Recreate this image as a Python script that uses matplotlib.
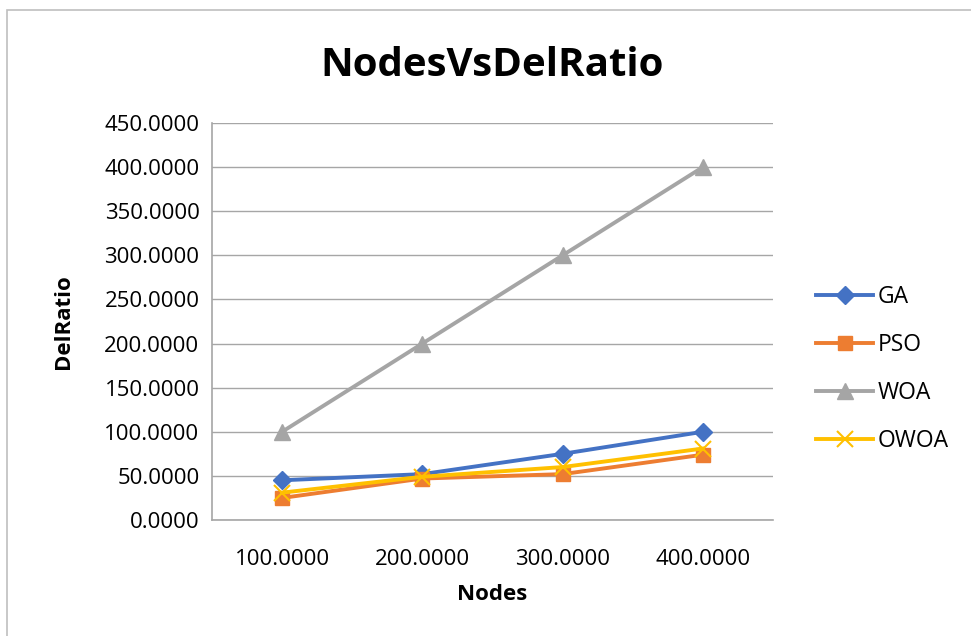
import matplotlib.pyplot as plt
from matplotlib.patches import Rectangle
import numpy as np

nodes = ["100.0000", "200.0000", "300.0000", "400.0000"]
ga = [45, 52, 75, 100]
pso = [25, 47, 52, 74]
woa = [100, 200, 300, 400]
owoa = [31, 49, 60, 81]
yticks = np.arange(0, 451, 50)

plt.rcParams['font.family'] = ['Open Sans', 'DejaVu Sans']

fig = plt.figure(figsize=(9.71, 6.36), dpi=100)
ax = fig.add_axes([0.2183, 0.1824, 0.5778, 0.6242])

# chart frame
fig.patches.append(Rectangle((0.007, -0.02), 1.1, 1.004, transform=fig.transFigure,
                             fill=False, edgecolor='#bfbfbf', linewidth=1.2))

x = np.arange(len(nodes))
ax.plot(x, ga, color='#4472c4', lw=2.8, marker='D', ms=9, label='GA')
ax.plot(x, pso, color='#ed7d31', lw=2.8, marker='s', ms=10, label='PSO')
ax.plot(x, woa, color='#a5a5a5', lw=2.8, marker='^', ms=11, label='WOA')
ax.plot(x, owoa, color='#ffc000', lw=2.8, marker='x', ms=11, mew=1.5, label='OWOA')

ax.set_xlim(-0.5, 3.5)
ax.set_ylim(0, 450)
ax.set_xticks(x)
ax.set_xticklabels(nodes)
ax.set_yticks(yticks)
ax.set_yticklabels([f"{v:.4f}" for v in yticks])
ax.tick_params(axis='y', labelsize=16, length=0, pad=9)
ax.tick_params(axis='x', labelsize=16, length=0, pad=21)
ax.grid(axis='y', color='#a6a6a6', lw=1)
ax.set_axisbelow(True)
for s in ['top', 'right']:
    ax.spines[s].set_visible(False)
for s in ['bottom', 'left']:
    ax.spines[s].set_color('#a6a6a6')
    ax.spines[s].set_linewidth(1.2)

ax.set_title('NodesVsDelRatio', fontsize=29, fontweight='bold', pad=34)
ax.set_xlabel('Nodes', fontsize=16, fontweight='bold', labelpad=10)
ax.set_ylabel('DelRatio', fontsize=16, fontweight='bold', labelpad=22)

ax.legend(loc='center left', bbox_to_anchor=(1.04, 0.38), frameon=False,
          fontsize=16.5, labelspacing=1.05, handlelength=2.5, handletextpad=0.2)

fig.savefig('out.png', dpi=100)
